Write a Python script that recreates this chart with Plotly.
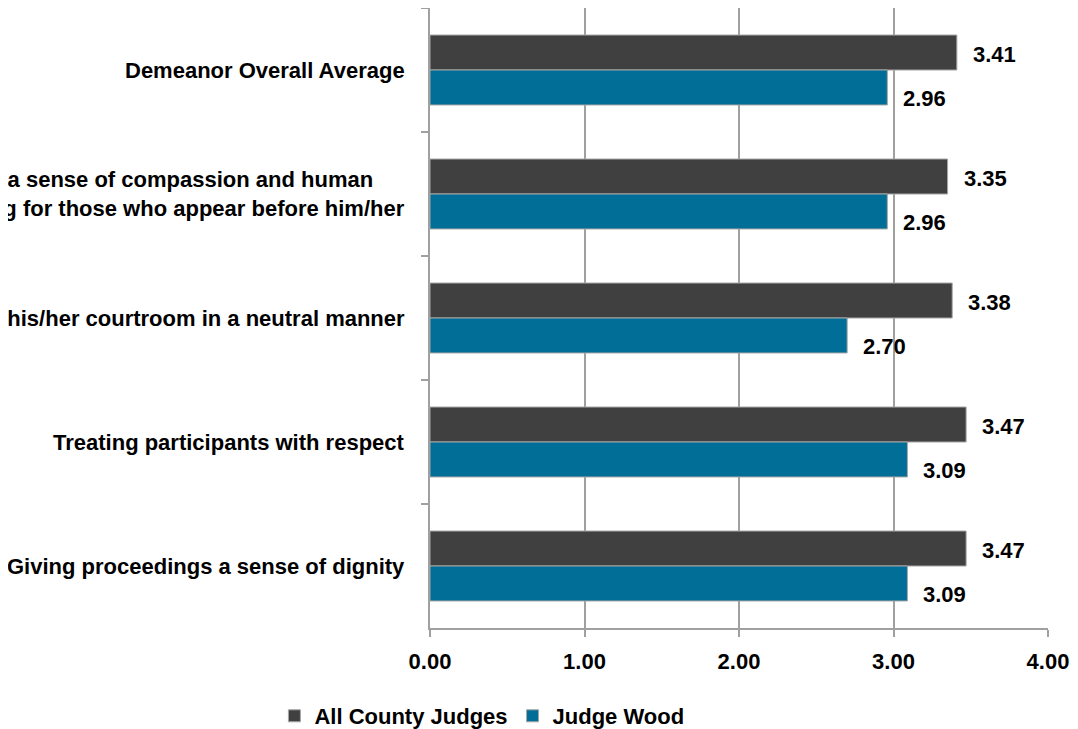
import plotly.graph_objects as go

categories = [
    "Demeanor Overall Average",
    "Exhibiting a sense of compassion and human<br>understanding for those who appear before him/her",
    "Conducting his/her courtroom in a neutral manner",
    "Treating participants with respect",
    "Giving proceedings a sense of dignity",
]
all_county = [3.41, 3.35, 3.38, 3.47, 3.47]
judge_wood = [2.96, 2.96, 2.70, 3.09, 3.09]
series_names = ["All County Judges", "Judge Wood"]
x_ticks = [0, 1, 2, 3, 4]

FONT = "Liberation Sans"
FS = 22

fig = go.Figure()
fig.add_trace(go.Bar(
    y=categories, x=all_county, orientation="h", name=series_names[0],
    marker=dict(color="#404040", line=dict(color="#a6a6a6", width=1)),
))
fig.add_trace(go.Bar(
    y=categories, x=judge_wood, orientation="h", name=series_names[1],
    marker=dict(color="#006e96", line=dict(color="#a6a6a6", width=1)),
))

# value labels (Excel-style, slightly offset)
for c, v in zip(categories, all_county):
    fig.add_annotation(
        x=v, xref="x", y=c, yref="y", xanchor="left", yanchor="middle",
        xshift=14, yshift=16, text=f"<b>{v:.2f}</b>", showarrow=False,
        font=dict(family=FONT, size=FS, color="#000000"),
    )
for c, v in zip(categories, judge_wood):
    fig.add_annotation(
        x=v, xref="x", y=c, yref="y", xanchor="left", yanchor="middle",
        xshift=14, yshift=-28, text=f"<b>{v:.2f}</b>", showarrow=False,
        font=dict(family=FONT, size=FS, color="#000000"),
    )

for c in categories:
    fig.add_annotation(
        x=0, xref="paper", y=c, yref="y", xanchor="right", yanchor="middle",
        xshift=-23, text="<b>" + c + "</b>", showarrow=False, align="center",
        font=dict(family=FONT, size=FS, color="#000000"),
    )

fig.update_layout(
    width=1078, height=729,
    margin=dict(l=422, r=38, t=0, b=109),
    paper_bgcolor="white", plot_bgcolor="white",
    barmode="group", bargap=0.436, bargroupgap=0,
    font=dict(family=FONT, size=FS, color="#000000", weight="bold"),
    legend=dict(orientation="h", x=0.084, xanchor="center", y=0.0, yref="container",
                yanchor="bottom", font=dict(family=FONT, size=FS, weight="bold"),
                itemwidth=30, tracegroupgap=0),
    showlegend=True,
)
fig.update_xaxes(
    range=[0, 4], tickvals=x_ticks, tickformat=".2f",
    showgrid=True, gridcolor="#a0a0a0", gridwidth=2,
    showline=True, linecolor="#a0a0a0", linewidth=2,
    ticks="outside", ticklen=7, tickcolor="#a0a0a0", tickwidth=2,
    tickfont=dict(family=FONT, size=FS, weight="bold"), ticklabelstandoff=6,
    zeroline=False,
)
fig.update_yaxes(
    autorange="reversed", showticklabels=False,
    showline=True, linecolor="#a0a0a0", linewidth=2,
    ticks="outside", ticklen=7, tickcolor="#a0a0a0", tickwidth=2,
    tickson="boundaries", showgrid=False,
)

fig.write_html("out.html")
